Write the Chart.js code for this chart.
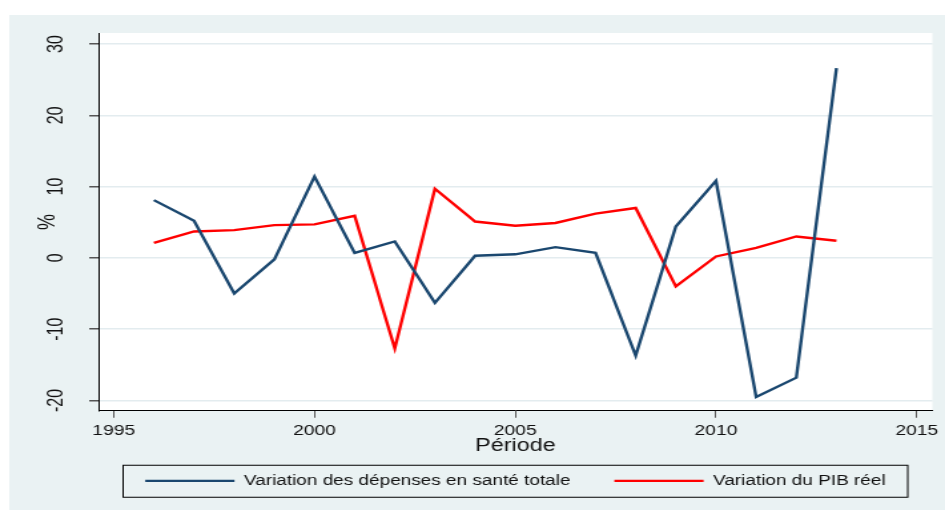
<!DOCTYPE html>
<html>
<head>
<meta charset="utf-8">
<script src="https://cdn.jsdelivr.net/npm/chart.js@4/dist/chart.umd.min.js"></script>
<style>
  html, body { margin: 0; background: #fff; }
  canvas { display: block; }
</style>
</head>
<body>
<!-- the original export is stretched sideways, so draw narrow and let CSS widen it -->
<canvas id="chart" width="710" height="510" style="width:945px;height:510px"></canvas>
<script>
const years = [1996, 1997, 1998, 1999, 2000, 2001, 2002, 2003, 2004, 2005,
               2006, 2007, 2008, 2009, 2010, 2011, 2012, 2013];
const depensesSante = [8.1, 5.2, -5.0, -0.2, 11.4, 0.7, 2.3, -6.3, 0.3, 0.5,
                       1.5, 0.7, -13.7, 4.4, 10.8, -19.5, -16.8, 26.6];
const pibReel = [2.1, 3.7, 3.9, 4.6, 4.7, 5.9, -12.7, 9.7, 5.1, 4.5,
                 4.9, 6.2, 7.0, -4.0, 0.2, 1.4, 3.0, 2.4];
const xTicks = [1995, 2000, 2005, 2010, 2015];
const yTicks = [-20, -10, 0, 10, 20, 30];

const font = 'Liberation Sans';
const ink = '#111';
const panel = '#eaf2f3';

// light grey-blue page with a white plot region
const backdrop = {
  id: 'backdrop',
  beforeDraw(chart) {
    const {ctx, width, height, chartArea: a} = chart;
    ctx.save();
    ctx.fillStyle = '#fff';
    ctx.fillRect(0, 0, width, height);
    ctx.fillStyle = panel;
    ctx.fillRect(7, 15, width - 7, height - 15);
    ctx.fillStyle = '#fff';
    ctx.fillRect(a.left, a.top, a.right - a.left, a.bottom - a.top);
    ctx.restore();
  }
};

// box around the legend
const legendFrame = {
  id: 'legendFrame',
  afterDraw(chart) {
    const {ctx, chartArea: a, legend} = chart;
    const top = legend.top + legend.options.labels.padding - 9;
    ctx.save();
    ctx.strokeStyle = '#000';
    ctx.lineWidth = 1;
    ctx.strokeRect(a.left + 18.5, top + 0.5, a.right - a.left - 37, 32);
    ctx.restore();
  }
};

new Chart(document.getElementById('chart'), {
  type: 'line',
  data: {
    labels: years,
    datasets: [{
      label: 'Variation des dépenses en santé totale',
      data: depensesSante,
      borderColor: '#1a476f',
      backgroundColor: '#1a476f',
      borderWidth: 2.4,
      pointRadius: 0,
      tension: 0
    }, {
      label: 'Variation du PIB réel',
      data: pibReel,
      borderColor: '#ff0000',
      backgroundColor: '#ff0000',
      borderWidth: 2.4,
      pointRadius: 0,
      tension: 0
    }]
  },
  options: {
    responsive: false,
    devicePixelRatio: 1,
    animation: false,
    layout: { padding: { left: 0, top: 33, right: 6, bottom: 12 } },
    plugins: {
      tooltip: { enabled: false },
      legend: {
        position: 'bottom',
        fullSize: false,
        labels: {
          usePointStyle: true,
          pointStyle: 'line',
          pointStyleWidth: 67,
          padding: 33,
          color: ink,
          font: { family: font, size: 14.25 }
        }
      }
    },
    scales: {
      x: {
        type: 'linear',
        min: 1994.62,
        max: 2015.39,
        afterBuildTicks: s => { s.ticks = xTicks.map(v => ({ value: v })); },
        afterFit: s => { s.height = 30; },
        ticks: {
          color: ink,
          padding: 5,
          font: { family: font, size: 14.5 },
          callback: v => String(v)
        },
        grid: { drawOnChartArea: false, tickLength: 7, tickColor: '#555' },
        border: { color: '#000', width: 1 },
        title: {
          display: true,
          text: 'Période',
          color: ink,
          font: { family: font, size: 17.5 },
          padding: { top: 0, bottom: -15.5 }
        }
      },
      y: {
        min: -21.44,
        max: 31.54,
        afterBuildTicks: s => { s.ticks = yTicks.map(v => ({ value: v })); },
        afterFit: s => { s.width = 74; },
        ticks: {
          color: ink,
          minRotation: 90,
          crossAlign: 'center',
          padding: 12.5,
          font: { family: font, size: 16 }
        },
        grid: { color: '#e3ecef', lineWidth: 1.5, tickLength: 7, tickColor: '#555' },
        border: { color: '#000', width: 1 },
        title: {
          display: true,
          text: '%',
          color: ink,
          font: { family: font, size: 18 },
          padding: { top: 25.5, bottom: 0 }
        }
      }
    }
  },
  plugins: [backdrop, legendFrame]
});
</script>
</body>
</html>
